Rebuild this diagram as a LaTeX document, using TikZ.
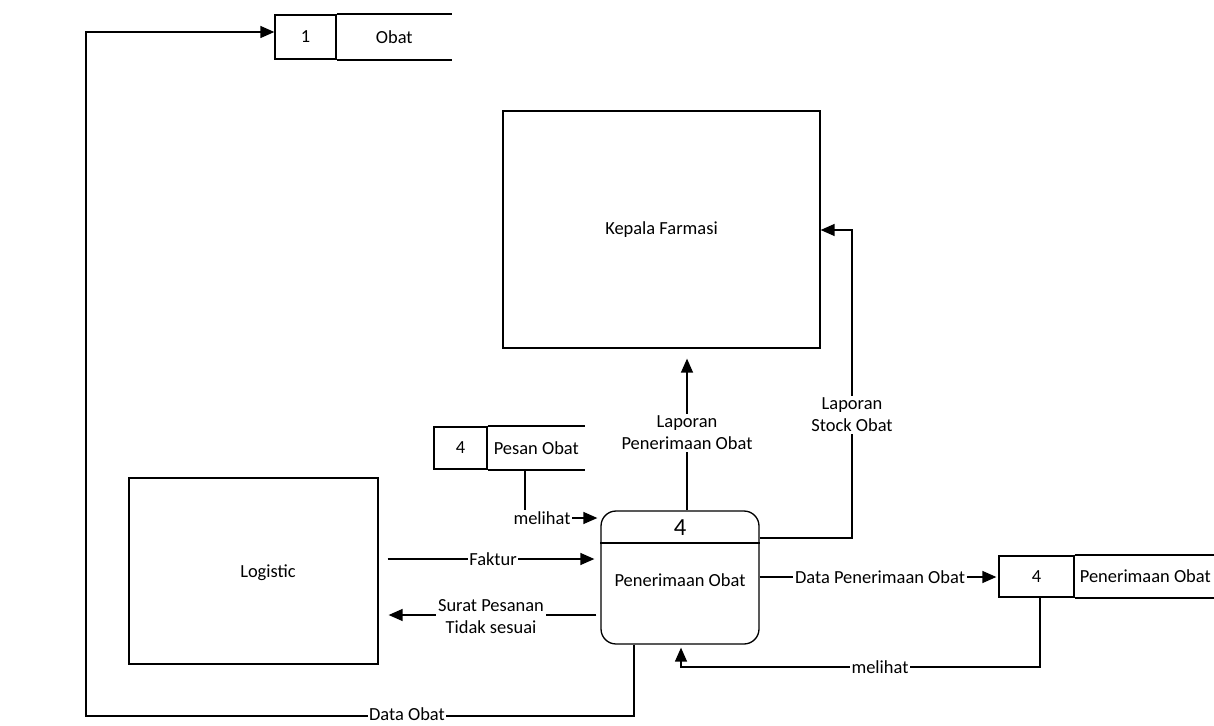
\documentclass[tikz,border=0pt]{standalone}
\usepackage{fontspec}
\setmainfont{Carlito}
\usetikzlibrary{positioning,arrows.meta}

\begin{document}
\begin{tikzpicture}[x=0.02cm,y=-0.02cm,line width=0.75pt,
  font=\fontsize{10.5}{12.5}\selectfont,
  entity/.style={draw,inner sep=0pt},
  proses/.style={draw,rounded corners=0.3cm,minimum width=3.16cm,minimum height=2.66cm,inner sep=0pt},
  idbox/.style={draw,inner sep=0pt},
  namebox/.style={inner sep=0pt},
  flow/.style={-{Triangle[length=0.28cm,width=0.24cm]}},
  lbl/.style={fill=white,inner sep=1pt,align=center}]
\useasboundingbox (0,0) rectangle (1214,726);

% external entities
\node[entity,minimum width=6.34cm,minimum height=4.74cm] (kepala) at (661.5,229.5) {Kepala Farmasi};
\node[entity,minimum width=4.98cm,minimum height=3.72cm] (logistic) at (253.5,571) {};
\node (logtext) at (268,573) {Logistic};

% process
\node[proses] (proc) at (680,577.5) {};
\draw (proc.west |- 0,543) -- (proc.east |- 0,543);
\node[font=\fontsize{14}{16}\selectfont] (procid) at (680,528) {4};
\node (procname) at (680,580) {Penerimaan Obat};

% data stores
\node[idbox,minimum width=1.22cm,minimum height=0.88cm] (s1) at (305.5,37) {1};
\node[namebox,minimum width=2.28cm,minimum height=0.88cm,right=0pt of s1] (obat) {Obat};
\draw[line width=1pt] (s1.north east) -- (obat.north east);
\draw[line width=1pt] (s1.south east) -- (obat.south east);

\node[idbox,minimum width=1.06cm,minimum height=0.84cm] (s4a) at (460.5,448) {4};
\node[namebox,minimum width=1.92cm,minimum height=0.84cm,right=0pt of s4a] (pesan) {Pesan Obat};
\draw[line width=1pt] (s4a.north east) -- (pesan.north east);
\draw[line width=1pt] (s4a.south east) -- (pesan.south east);

\node[idbox,minimum width=1.5cm,minimum height=0.82cm] (s4b) at (1036.5,576.5) {4};
\node[namebox,minimum width=2.8cm,minimum height=0.82cm,right=0pt of s4b] (terima) {Penerimaan Obat};
\draw[line width=1pt] (s4b.north east) -- (terima.north east);
\draw[line width=1pt] (s4b.south east) -- (terima.south east);

% data flows
\draw[flow] (proc.south -| 634,0) -- (634,716) -- (86,716) -- (86,32) -- (s1.west |- 0,32);
\node[lbl,inner sep=0.5pt] (dataobat) at (407,714) {Data Obat};

\draw[flow,shorten >=0.2cm] (proc.north -| 687,0) -- (kepala.south -| 687,0);
\node[lbl] (lapterima) at (687,433) {Laporan\\Penerimaan Obat};

\draw[flow] (proc.east |- 0,538) -- (852,538) -- (852,230) -- (kepala.east |- 0,230);
\node[lbl] (lapstock) at (852,415) {Laporan\\Stock Obat};

\draw[flow,shorten >=0.06cm] (pesan.south -| 525,0) -- (525,518) -- (proc.west |- 0,518);
\node[lbl] (melihat1) at (542,518) {melihat};

\draw[flow,shorten <=0.18cm,shorten >=0.12cm] (logistic.east |- 0,559) -- (proc.west |- 0,559);
\node[lbl] (faktur) at (493,559) {Faktur};

\draw[flow,shorten <=0.08cm,shorten >=0.2cm] (proc.west |- 0,615) -- (logistic.east |- 0,615);
\node[lbl] (surat) at (491,617) {Surat Pesanan\\Tidak sesuai};

\draw[flow,shorten >=0.04cm] (proc.east |- 0,577) -- (s4b.west |- 0,577);
\node[lbl] (dataterima) at (880,577) {Data Penerimaan Obat};

\draw[flow,shorten >=0.06cm] (s4b.south -| 1040,0) -- (1040,667) -- (681,667) -- (proc.south -| 681,0);
\node[lbl] (melihat2) at (880,667) {melihat};
\end{tikzpicture}
\end{document}
